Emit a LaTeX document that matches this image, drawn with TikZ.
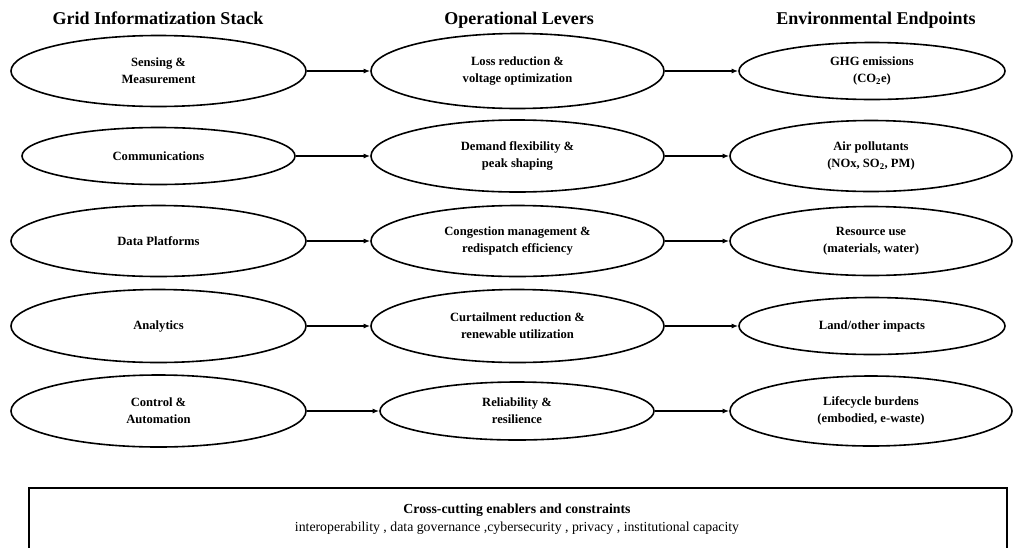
\documentclass[tikz,border=0pt]{standalone}
\usepackage{fontspec}
\setmainfont{Liberation Serif}
\usetikzlibrary{shapes.geometric,arrows.meta}
\begin{document}
\begin{tikzpicture}[x=1pt,y=-1pt,
  ell/.style={ellipse,draw,line width=1.6pt,inner sep=0pt,align=center,
    font=\fontsize{12.6}{17}\selectfont\bfseries},
  hdr/.style={anchor=base,font=\fontsize{18}{22}\selectfont\bfseries},
  arr/.style={-{Latex[length=6.5pt,width=5pt]},line width=1.4pt},
  cctitle/.style={font=\fontsize{13.8}{17}\selectfont\bfseries},
  cctext/.style={font=\fontsize{13.8}{17}\selectfont}]
\useasboundingbox (0,0) rectangle (1014,547);
% headers
\node[hdr] (h1) at (158,24) {Grid Informatization Stack};
\node[hdr] (h2) at (519,24) {Operational Levers};
\node[hdr] (h3) at (876,24) {Environmental Endpoints};
% row 1
\node[ell,minimum width=295pt,minimum height=71pt] (s1) at (158.5,71) {Sensing \&\\Measurement};
\node[ell,minimum width=293pt,minimum height=75pt] (m1) at (517.5,71) {Loss reduction \&\\voltage optimization};
\node[ell,minimum width=266pt,minimum height=57pt] (e1) at (872,71) {GHG emissions\\(CO\textsubscript{2}e)};
% row 2
\node[ell,minimum width=273pt,minimum height=57pt] (s2) at (158.5,156) {Communications};
\node[ell,minimum width=293pt,minimum height=72pt] (m2) at (517.5,156) {Demand flexibility \&\\peak shaping};
\node[ell,minimum width=282pt,minimum height=71pt] (e2) at (871,156) {Air pollutants\\(NOx, SO\textsubscript{2}, PM)};
% row 3
\node[ell,minimum width=295pt,minimum height=71pt] (s3) at (158.5,241) {Data Platforms};
\node[ell,minimum width=293pt,minimum height=71pt] (m3) at (517.5,241) {Congestion management \&\\redispatch efficiency};
\node[ell,minimum width=282pt,minimum height=69pt] (e3) at (871,241) {Resource use\\(materials, water)};
% row 4
\node[ell,minimum width=295pt,minimum height=73pt] (s4) at (158.5,326) {Analytics};
\node[ell,minimum width=293pt,minimum height=73pt] (m4) at (517.5,326) {Curtailment reduction \&\\renewable utilization};
\node[ell,minimum width=266pt,minimum height=57pt] (e4) at (872,326) {Land/other impacts};
% row 5
\node[ell,minimum width=295pt,minimum height=72pt] (s5) at (158.5,411) {Control \&\\Automation};
\node[ell,minimum width=274pt,minimum height=58pt] (m5) at (517,411) {Reliability \&\\resilience};
\node[ell,minimum width=282pt,minimum height=70pt] (e5) at (871,411) {Lifecycle burdens\\(embodied, e-waste)};
% arrows
\foreach \i in {1,...,5}{
  \draw[arr] (s\i.east) -- (m\i.west);
  \draw[arr] (m\i.east) -- (e\i.west);
}
% cross-cutting box
\begin{scope}
\clip (0,0) rectangle (1014,547);
\node[draw,line width=1.5pt,minimum width=978pt,minimum height=66pt,inner sep=0pt,anchor=north west] (cc) at (28,487) {};
\node[cctitle] (cct) at (517,510) {Cross-cutting enablers and constraints};
\node[cctext] (ccs) at (517,528) {interoperability , data governance ,cybersecurity , privacy , institutional capacity};
\end{scope}
\end{tikzpicture}
\end{document}
